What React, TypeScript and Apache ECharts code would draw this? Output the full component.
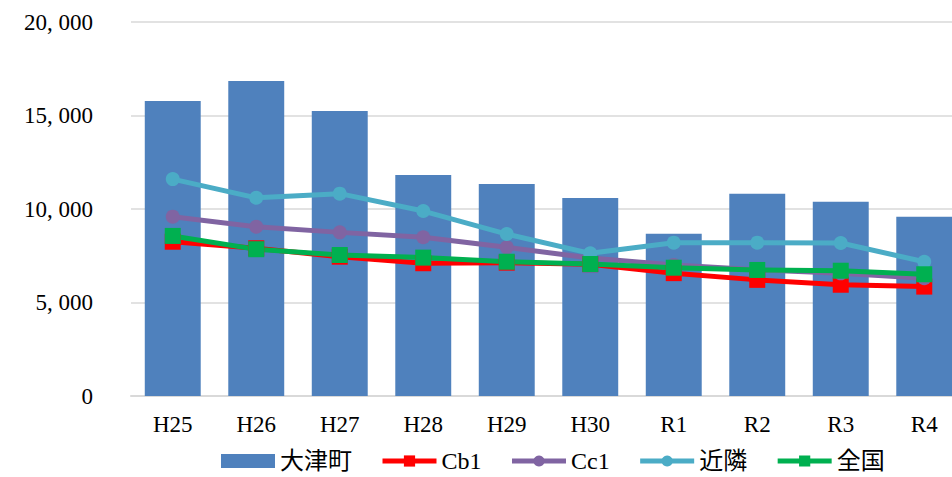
import React, { useEffect, useRef } from "react";
import * as echarts from "echarts";

const categories = ["H25", "H26", "H27", "H28", "H29", "H30", "R1", "R2", "R3", "R4"];
const otsu = [15780, 16850, 15240, 11820, 11340, 10590, 8680, 10820, 10390, 9580];
const cb1 = [8250, 7900, 7450, 7100, 7130, 7050, 6570, 6210, 5950, 5850];
const cc1 = [9590, 9050, 8750, 8490, 7950, 7380, 7010, 6750, 6560, 6300];
const kinrin = [11600, 10600, 10820, 9890, 8660, 7630, 8200, 8200, 8180, 7180];
const zenkoku = [8560, 7850, 7540, 7400, 7180, 7060, 6860, 6740, 6700, 6510];
const yTicks = { min: 0, max: 20000, interval: 5000 };

const FONT = "'Liberation Serif', 'Noto Sans CJK JP', serif";

function fmt(v: number): string {
  const s = String(Math.round(v));
  return s.replace(/\B(?=(\d{3})+(?!\d))/g, ", ");
}

export default function App() {
  const ref = useRef<HTMLDivElement>(null);
  useEffect(() => {
    if (!ref.current) return;
    const chart = echarts.init(ref.current, null, { renderer: "svg" });
    const lineSeries = (name: string, data: number[], color: string, symbol: string) => ({
      name,
      type: "line",
      data,
      symbol,
      symbolSize: symbol === "rect" ? 16 : 14,
      lineStyle: { color, width: 5 },
      itemStyle: { color },
      z: 3,
    });
    chart.setOption({
      animation: false,
      textStyle: { fontFamily: FONT },
      grid: {
        left: 131,
        top: 22,
        right: -14,
        height: 374,
        containLabel: false,
        outerBoundsMode: "none",
      },
      xAxis: {
        type: "category",
        data: categories,
        axisLine: { lineStyle: { color: "#D9D9D9", width: 2 } },
        axisTick: { show: false },
        axisLabel: { color: "#000", fontSize: 23, fontFamily: FONT, margin: 17 },
      },
      yAxis: {
        type: "value",
        min: yTicks.min,
        max: yTicks.max,
        interval: yTicks.interval,
        axisLine: { show: false },
        axisTick: { show: false },
        splitLine: { lineStyle: { color: "#D9D9D9", width: 1.5 } },
        axisLabel: {
          color: "#000",
          fontSize: 23,
          fontFamily: FONT,
          margin: 38,
          formatter: (v: number) => fmt(v),
        },
      },
      legend: {
        left: 221,
        top: 448,
        padding: 0,
        itemGap: 28,
        itemWidth: 54,
        itemHeight: 14,
        lineStyle: { width: 5 },
        textStyle: { fontSize: 24, lineHeight: 26, fontFamily: FONT, color: "#000" },
        data: [
          { name: "大津町", icon: "rect", itemStyle: { color: "#4F81BD" } },
          "Cb1",
          "Cc1",
          "近隣",
          "全国",
        ],
      },
      series: [
        {
          name: "大津町",
          type: "bar",
          data: otsu,
          barWidth: "67%",
          itemStyle: { color: "#4F81BD" },
        },
        lineSeries("Cb1", cb1, "#FF0000", "rect"),
        lineSeries("Cc1", cc1, "#8064A2", "circle"),
        lineSeries("近隣", kinrin, "#4BACC6", "circle"),
        lineSeries("全国", zenkoku, "#00B050", "rect"),
      ],
    });
    return () => chart.dispose();
  }, []);
  return <div ref={ref} style={{ width: 952, height: 477, position: "absolute", left: 0, top: 0 }} />;
}
